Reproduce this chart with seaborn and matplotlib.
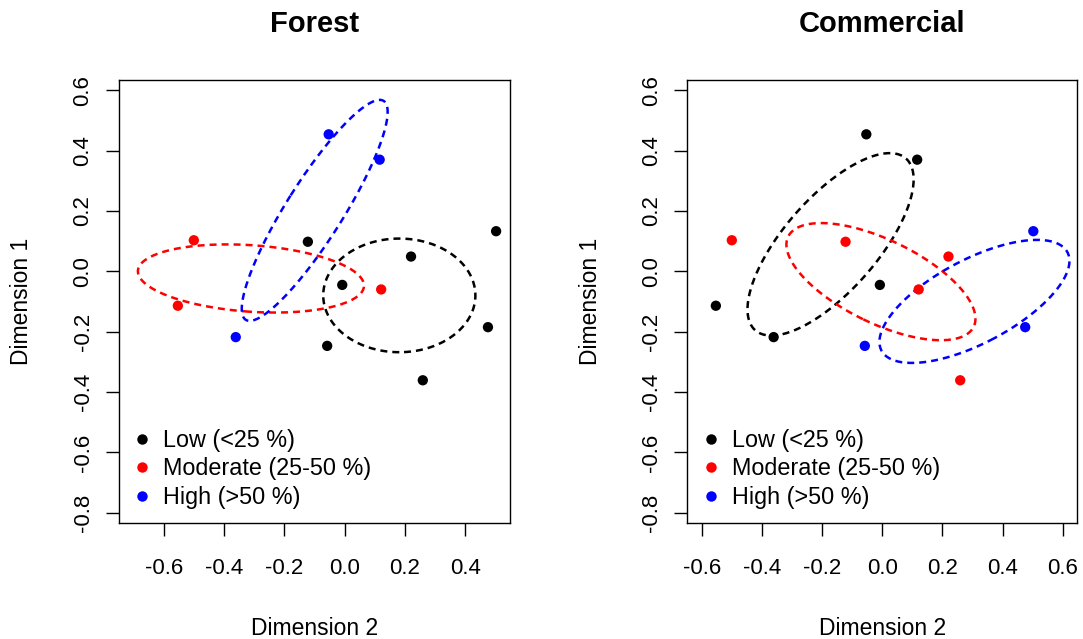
import numpy as np
import pandas as pd
import matplotlib
matplotlib.use("Agg")
import matplotlib.pyplot as plt
import seaborn as sns
from matplotlib.lines import Line2D

# NMDS-style site scores (Dimension 2 on x, Dimension 1 on y)
dim2 = [-0.053, 0.116, -0.361, -0.500, -0.553, 0.121, -0.122,
        0.220, 0.502, -0.008, 0.475, -0.058, 0.259]
dim1 = [0.454, 0.370, -0.218, 0.103, -0.114, -0.060, 0.098,
        0.049, 0.133, -0.045, -0.185, -0.247, -0.361]

forest = ["High", "High", "High", "Moderate", "Moderate", "Moderate", "Low",
          "Low", "Low", "Low", "Low", "Low", "Low"]
commercial = ["Low", "Low", "Low", "Moderate", "Low", "Moderate", "Moderate",
              "Moderate", "High", "Low", "High", "High", "Moderate"]

groups = ["Low", "Moderate", "High"]
group_labels = ["Low (<25 %)", "Moderate (25-50 %)", "High (>50 %)"]
colors = {"Low": "black", "Moderate": "red", "High": "blue"}

y_ticks = [-0.8, -0.6, -0.4, -0.2, 0.0, 0.2, 0.4, 0.6]
x_ticks_forest = [-0.6, -0.4, -0.2, 0.0, 0.2, 0.4]
x_ticks_comm = [-0.6, -0.4, -0.2, 0.0, 0.2, 0.4, 0.6]

df = pd.DataFrame({"dim2": dim2, "dim1": dim1,
                   "Forest": forest, "Commercial": commercial})

sns.set_theme(style="ticks")
plt.rcParams["font.family"] = ["Liberation Sans", "DejaVu Sans"]
plt.rcParams["text.color"] = "black"

fig = plt.figure(figsize=(10.83, 6.39), dpi=100)
ax1 = fig.add_axes([0.1099, 0.1815, 0.3610, 0.6933])
ax2 = fig.add_axes([0.6346, 0.1815, 0.3601, 0.6933])


def sd_ellipse(x, y, n=200):
    # one standard deviation ellipse around the group centroid
    pts = np.column_stack([x, y])
    centre = pts.mean(axis=0)
    cov = np.cov(pts, rowvar=False)
    vals, vecs = np.linalg.eigh(cov)
    t = np.linspace(0, 2 * np.pi, n)
    circle = np.vstack([np.cos(t), np.sin(t)])
    ell = vecs @ (np.sqrt(vals)[:, None] * circle)
    return ell[0] + centre[0], ell[1] + centre[1]


def panel(ax, col, title, xlim, xticks):
    sns.scatterplot(data=df, x="dim2", y="dim1", hue=col, hue_order=groups,
                    palette=colors, s=55, linewidth=0, legend=False, ax=ax,
                    zorder=3)
    for g in groups:
        sub = df[df[col] == g]
        ex, ey = sd_ellipse(sub["dim2"], sub["dim1"])
        ax.plot(ex, ey, color=colors[g], lw=1.8, linestyle=(0, (2.8, 2.0)),
                zorder=2)

    ax.set_xlim(*xlim)
    ax.set_ylim(-0.834, 0.634)
    ax.set_xticks(xticks)
    ax.set_yticks(y_ticks)
    ax.set_xticklabels([f"{v:.1f}" for v in xticks])
    ax.set_yticklabels([f"{v:.1f}" for v in y_ticks], rotation=90, va="center")
    ax.tick_params(axis="both", labelsize=16, length=9.3, width=1.0,
                   color="black", labelcolor="black")
    ax.tick_params(axis="x", pad=16)
    ax.tick_params(axis="y", pad=9)
    for sp in ax.spines.values():
        sp.set_visible(True)
        sp.set_color("black")
        sp.set_linewidth(1.0)

    ax.set_xlabel("Dimension 2", fontsize=16.5, color="black")
    ax.set_ylabel("Dimension 1", fontsize=16.5, color="black")
    ax.xaxis.set_label_coords(0.5, -0.237)
    ax.xaxis.label.set_va("center")
    ax.yaxis.set_label_coords(-0.249, 0.5)
    ax.yaxis.label.set_va("center")

    ax.text(0.5, 1.127, title, transform=ax.transAxes, ha="center",
            va="center", fontsize=21, fontweight="bold", color="black")

    handles = [Line2D([], [], marker="o", linestyle="none", markersize=7.5,
                      markerfacecolor=colors[g], markeredgewidth=0)
               for g in groups]
    leg = ax.legend(handles, group_labels, loc="lower left",
                    bbox_to_anchor=(0, 0.0), frameon=False,
                    fontsize=16.8, handlelength=0.8, handletextpad=0.5,
                    labelspacing=0.24, borderaxespad=0.1, borderpad=0.5)
    for txt in leg.get_texts():
        txt.set_color("black")


panel(ax1, "Forest", "Forest", (-0.748, 0.548), x_ticks_forest)
panel(ax2, "Commercial", "Commercial", (-0.648, 0.648), x_ticks_comm)

fig.savefig("out.png", dpi=100)
